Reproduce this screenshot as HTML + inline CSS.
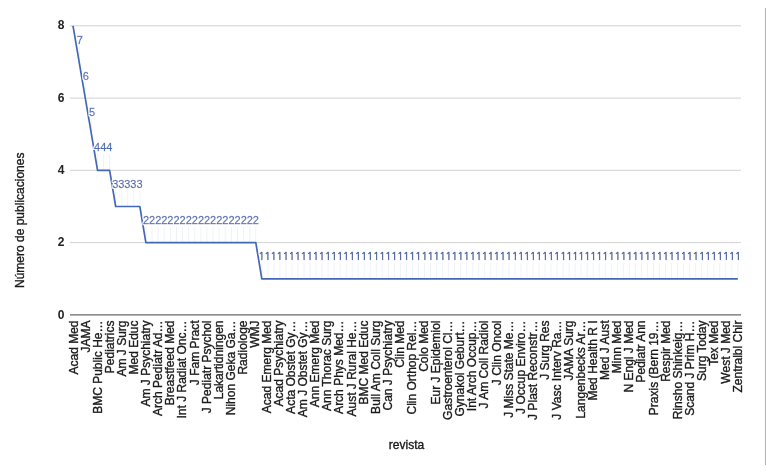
<!DOCTYPE html>
<html><head><meta charset="utf-8"><title>revista</title>
<style>
html,body{margin:0;padding:0;background:#fff;}
body{width:776px;height:475px;overflow:hidden;font-family:"Liberation Sans",sans-serif;}
svg{display:block;filter:blur(0.35px);}
.xl{font-size:12px;fill:#1a1a1a;stroke:#1a1a1a;stroke-width:0.35px;}
.yl{font-size:12px;font-weight:bold;fill:#222;}
.dl{font-size:11px;fill:#4a6db3;stroke:#4a6db3;stroke-width:0.3px;}
.d1{font-family:"NanumGothic","Liberation Sans",sans-serif;font-size:10.8px;fill:#48639f;stroke:#48639f;stroke-width:0.55px;}
.t{font-size:12px;fill:#1a1a1a;stroke:#1a1a1a;stroke-width:0.35px;}
</style></head><body>
<svg width="776" height="475" viewBox="0 0 776 475" font-family="Liberation Sans, sans-serif">
<rect width="776" height="475" fill="#fff"/>
<line x1="765.5" y1="8" x2="765.5" y2="465" stroke="#b4b4b4" stroke-width="1"/>
<line x1="70" y1="242.6" x2="741" y2="242.6" stroke="#d2d2d2" stroke-width="1"/>
<line x1="70" y1="170.3" x2="741" y2="170.3" stroke="#d2d2d2" stroke-width="1"/>
<line x1="70" y1="98.1" x2="741" y2="98.1" stroke="#d2d2d2" stroke-width="1"/>
<line x1="70" y1="25.8" x2="741" y2="25.8" stroke="#d2d2d2" stroke-width="1"/>
<line x1="70" y1="314.9" x2="741" y2="314.9" stroke="#6a6a6a" stroke-width="1.4"/>
<text class="yl" x="64.4" y="318.5" text-anchor="end">0</text>
<text class="yl" x="64.4" y="246.2" text-anchor="end">2</text>
<text class="yl" x="64.4" y="173.9" text-anchor="end">4</text>
<text class="yl" x="64.4" y="101.7" text-anchor="end">6</text>
<text class="yl" x="64.4" y="29.4" text-anchor="end">8</text>
<line x1="79.14" y1="45.9" x2="79.14" y2="61.9" stroke="#9db3dc" stroke-opacity="0.17" stroke-width="1"/>
<line x1="85.28" y1="82.1" x2="85.28" y2="98.1" stroke="#9db3dc" stroke-opacity="0.17" stroke-width="1"/>
<line x1="91.42" y1="118.2" x2="91.42" y2="134.2" stroke="#9db3dc" stroke-opacity="0.17" stroke-width="1"/>
<line x1="97.56" y1="154.3" x2="97.56" y2="170.3" stroke="#9db3dc" stroke-opacity="0.17" stroke-width="1"/>
<line x1="103.60" y1="154.3" x2="103.60" y2="170.3" stroke="#9db3dc" stroke-opacity="0.17" stroke-width="1"/>
<line x1="109.64" y1="154.3" x2="109.64" y2="170.3" stroke="#9db3dc" stroke-opacity="0.17" stroke-width="1"/>
<line x1="115.68" y1="190.5" x2="115.68" y2="206.5" stroke="#9db3dc" stroke-opacity="0.17" stroke-width="1"/>
<line x1="121.72" y1="190.5" x2="121.72" y2="206.5" stroke="#9db3dc" stroke-opacity="0.17" stroke-width="1"/>
<line x1="127.76" y1="190.5" x2="127.76" y2="206.5" stroke="#9db3dc" stroke-opacity="0.17" stroke-width="1"/>
<line x1="133.80" y1="190.5" x2="133.80" y2="206.5" stroke="#9db3dc" stroke-opacity="0.17" stroke-width="1"/>
<line x1="139.84" y1="190.5" x2="139.84" y2="206.5" stroke="#9db3dc" stroke-opacity="0.17" stroke-width="1"/>
<line x1="145.88" y1="226.6" x2="145.88" y2="242.6" stroke="#9db3dc" stroke-opacity="0.17" stroke-width="1"/>
<line x1="151.99" y1="226.6" x2="151.99" y2="242.6" stroke="#9db3dc" stroke-opacity="0.17" stroke-width="1"/>
<line x1="158.09" y1="226.6" x2="158.09" y2="242.6" stroke="#9db3dc" stroke-opacity="0.17" stroke-width="1"/>
<line x1="164.20" y1="226.6" x2="164.20" y2="242.6" stroke="#9db3dc" stroke-opacity="0.17" stroke-width="1"/>
<line x1="170.31" y1="226.6" x2="170.31" y2="242.6" stroke="#9db3dc" stroke-opacity="0.17" stroke-width="1"/>
<line x1="176.41" y1="226.6" x2="176.41" y2="242.6" stroke="#9db3dc" stroke-opacity="0.17" stroke-width="1"/>
<line x1="182.52" y1="226.6" x2="182.52" y2="242.6" stroke="#9db3dc" stroke-opacity="0.17" stroke-width="1"/>
<line x1="188.63" y1="226.6" x2="188.63" y2="242.6" stroke="#9db3dc" stroke-opacity="0.17" stroke-width="1"/>
<line x1="194.73" y1="226.6" x2="194.73" y2="242.6" stroke="#9db3dc" stroke-opacity="0.17" stroke-width="1"/>
<line x1="200.84" y1="226.6" x2="200.84" y2="242.6" stroke="#9db3dc" stroke-opacity="0.17" stroke-width="1"/>
<line x1="206.95" y1="226.6" x2="206.95" y2="242.6" stroke="#9db3dc" stroke-opacity="0.17" stroke-width="1"/>
<line x1="213.05" y1="226.6" x2="213.05" y2="242.6" stroke="#9db3dc" stroke-opacity="0.17" stroke-width="1"/>
<line x1="219.16" y1="226.6" x2="219.16" y2="242.6" stroke="#9db3dc" stroke-opacity="0.17" stroke-width="1"/>
<line x1="225.27" y1="226.6" x2="225.27" y2="242.6" stroke="#9db3dc" stroke-opacity="0.17" stroke-width="1"/>
<line x1="231.37" y1="226.6" x2="231.37" y2="242.6" stroke="#9db3dc" stroke-opacity="0.17" stroke-width="1"/>
<line x1="237.48" y1="226.6" x2="237.48" y2="242.6" stroke="#9db3dc" stroke-opacity="0.17" stroke-width="1"/>
<line x1="243.59" y1="226.6" x2="243.59" y2="242.6" stroke="#9db3dc" stroke-opacity="0.17" stroke-width="1"/>
<line x1="249.69" y1="226.6" x2="249.69" y2="242.6" stroke="#9db3dc" stroke-opacity="0.17" stroke-width="1"/>
<line x1="255.80" y1="226.6" x2="255.80" y2="242.6" stroke="#9db3dc" stroke-opacity="0.17" stroke-width="1"/>
<line x1="261.84" y1="262.8" x2="261.84" y2="278.8" stroke="#9db3dc" stroke-opacity="0.17" stroke-width="1"/>
<line x1="267.86" y1="262.8" x2="267.86" y2="278.8" stroke="#9db3dc" stroke-opacity="0.17" stroke-width="1"/>
<line x1="273.89" y1="262.8" x2="273.89" y2="278.8" stroke="#9db3dc" stroke-opacity="0.17" stroke-width="1"/>
<line x1="279.91" y1="262.8" x2="279.91" y2="278.8" stroke="#9db3dc" stroke-opacity="0.17" stroke-width="1"/>
<line x1="285.94" y1="262.8" x2="285.94" y2="278.8" stroke="#9db3dc" stroke-opacity="0.17" stroke-width="1"/>
<line x1="291.96" y1="262.8" x2="291.96" y2="278.8" stroke="#9db3dc" stroke-opacity="0.17" stroke-width="1"/>
<line x1="297.99" y1="262.8" x2="297.99" y2="278.8" stroke="#9db3dc" stroke-opacity="0.17" stroke-width="1"/>
<line x1="304.01" y1="262.8" x2="304.01" y2="278.8" stroke="#9db3dc" stroke-opacity="0.17" stroke-width="1"/>
<line x1="310.04" y1="262.8" x2="310.04" y2="278.8" stroke="#9db3dc" stroke-opacity="0.17" stroke-width="1"/>
<line x1="316.06" y1="262.8" x2="316.06" y2="278.8" stroke="#9db3dc" stroke-opacity="0.17" stroke-width="1"/>
<line x1="322.09" y1="262.8" x2="322.09" y2="278.8" stroke="#9db3dc" stroke-opacity="0.17" stroke-width="1"/>
<line x1="328.11" y1="262.8" x2="328.11" y2="278.8" stroke="#9db3dc" stroke-opacity="0.17" stroke-width="1"/>
<line x1="334.14" y1="262.8" x2="334.14" y2="278.8" stroke="#9db3dc" stroke-opacity="0.17" stroke-width="1"/>
<line x1="340.16" y1="262.8" x2="340.16" y2="278.8" stroke="#9db3dc" stroke-opacity="0.17" stroke-width="1"/>
<line x1="346.19" y1="262.8" x2="346.19" y2="278.8" stroke="#9db3dc" stroke-opacity="0.17" stroke-width="1"/>
<line x1="352.21" y1="262.8" x2="352.21" y2="278.8" stroke="#9db3dc" stroke-opacity="0.17" stroke-width="1"/>
<line x1="358.24" y1="262.8" x2="358.24" y2="278.8" stroke="#9db3dc" stroke-opacity="0.17" stroke-width="1"/>
<line x1="364.26" y1="262.8" x2="364.26" y2="278.8" stroke="#9db3dc" stroke-opacity="0.17" stroke-width="1"/>
<line x1="370.29" y1="262.8" x2="370.29" y2="278.8" stroke="#9db3dc" stroke-opacity="0.17" stroke-width="1"/>
<line x1="376.31" y1="262.8" x2="376.31" y2="278.8" stroke="#9db3dc" stroke-opacity="0.17" stroke-width="1"/>
<line x1="382.34" y1="262.8" x2="382.34" y2="278.8" stroke="#9db3dc" stroke-opacity="0.17" stroke-width="1"/>
<line x1="388.36" y1="262.8" x2="388.36" y2="278.8" stroke="#9db3dc" stroke-opacity="0.17" stroke-width="1"/>
<line x1="394.39" y1="262.8" x2="394.39" y2="278.8" stroke="#9db3dc" stroke-opacity="0.17" stroke-width="1"/>
<line x1="400.41" y1="262.8" x2="400.41" y2="278.8" stroke="#9db3dc" stroke-opacity="0.17" stroke-width="1"/>
<line x1="406.44" y1="262.8" x2="406.44" y2="278.8" stroke="#9db3dc" stroke-opacity="0.17" stroke-width="1"/>
<line x1="412.46" y1="262.8" x2="412.46" y2="278.8" stroke="#9db3dc" stroke-opacity="0.17" stroke-width="1"/>
<line x1="418.49" y1="262.8" x2="418.49" y2="278.8" stroke="#9db3dc" stroke-opacity="0.17" stroke-width="1"/>
<line x1="424.51" y1="262.8" x2="424.51" y2="278.8" stroke="#9db3dc" stroke-opacity="0.17" stroke-width="1"/>
<line x1="430.53" y1="262.8" x2="430.53" y2="278.8" stroke="#9db3dc" stroke-opacity="0.17" stroke-width="1"/>
<line x1="436.56" y1="262.8" x2="436.56" y2="278.8" stroke="#9db3dc" stroke-opacity="0.17" stroke-width="1"/>
<line x1="442.58" y1="262.8" x2="442.58" y2="278.8" stroke="#9db3dc" stroke-opacity="0.17" stroke-width="1"/>
<line x1="448.61" y1="262.8" x2="448.61" y2="278.8" stroke="#9db3dc" stroke-opacity="0.17" stroke-width="1"/>
<line x1="454.63" y1="262.8" x2="454.63" y2="278.8" stroke="#9db3dc" stroke-opacity="0.17" stroke-width="1"/>
<line x1="460.66" y1="262.8" x2="460.66" y2="278.8" stroke="#9db3dc" stroke-opacity="0.17" stroke-width="1"/>
<line x1="466.68" y1="262.8" x2="466.68" y2="278.8" stroke="#9db3dc" stroke-opacity="0.17" stroke-width="1"/>
<line x1="472.71" y1="262.8" x2="472.71" y2="278.8" stroke="#9db3dc" stroke-opacity="0.17" stroke-width="1"/>
<line x1="478.73" y1="262.8" x2="478.73" y2="278.8" stroke="#9db3dc" stroke-opacity="0.17" stroke-width="1"/>
<line x1="484.76" y1="262.8" x2="484.76" y2="278.8" stroke="#9db3dc" stroke-opacity="0.17" stroke-width="1"/>
<line x1="490.78" y1="262.8" x2="490.78" y2="278.8" stroke="#9db3dc" stroke-opacity="0.17" stroke-width="1"/>
<line x1="496.81" y1="262.8" x2="496.81" y2="278.8" stroke="#9db3dc" stroke-opacity="0.17" stroke-width="1"/>
<line x1="502.83" y1="262.8" x2="502.83" y2="278.8" stroke="#9db3dc" stroke-opacity="0.17" stroke-width="1"/>
<line x1="508.86" y1="262.8" x2="508.86" y2="278.8" stroke="#9db3dc" stroke-opacity="0.17" stroke-width="1"/>
<line x1="514.88" y1="262.8" x2="514.88" y2="278.8" stroke="#9db3dc" stroke-opacity="0.17" stroke-width="1"/>
<line x1="520.91" y1="262.8" x2="520.91" y2="278.8" stroke="#9db3dc" stroke-opacity="0.17" stroke-width="1"/>
<line x1="526.93" y1="262.8" x2="526.93" y2="278.8" stroke="#9db3dc" stroke-opacity="0.17" stroke-width="1"/>
<line x1="532.96" y1="262.8" x2="532.96" y2="278.8" stroke="#9db3dc" stroke-opacity="0.17" stroke-width="1"/>
<line x1="538.98" y1="262.8" x2="538.98" y2="278.8" stroke="#9db3dc" stroke-opacity="0.17" stroke-width="1"/>
<line x1="545.01" y1="262.8" x2="545.01" y2="278.8" stroke="#9db3dc" stroke-opacity="0.17" stroke-width="1"/>
<line x1="551.03" y1="262.8" x2="551.03" y2="278.8" stroke="#9db3dc" stroke-opacity="0.17" stroke-width="1"/>
<line x1="557.06" y1="262.8" x2="557.06" y2="278.8" stroke="#9db3dc" stroke-opacity="0.17" stroke-width="1"/>
<line x1="563.08" y1="262.8" x2="563.08" y2="278.8" stroke="#9db3dc" stroke-opacity="0.17" stroke-width="1"/>
<line x1="569.11" y1="262.8" x2="569.11" y2="278.8" stroke="#9db3dc" stroke-opacity="0.17" stroke-width="1"/>
<line x1="575.13" y1="262.8" x2="575.13" y2="278.8" stroke="#9db3dc" stroke-opacity="0.17" stroke-width="1"/>
<line x1="581.15" y1="262.8" x2="581.15" y2="278.8" stroke="#9db3dc" stroke-opacity="0.17" stroke-width="1"/>
<line x1="587.18" y1="262.8" x2="587.18" y2="278.8" stroke="#9db3dc" stroke-opacity="0.17" stroke-width="1"/>
<line x1="593.20" y1="262.8" x2="593.20" y2="278.8" stroke="#9db3dc" stroke-opacity="0.17" stroke-width="1"/>
<line x1="599.23" y1="262.8" x2="599.23" y2="278.8" stroke="#9db3dc" stroke-opacity="0.17" stroke-width="1"/>
<line x1="605.25" y1="262.8" x2="605.25" y2="278.8" stroke="#9db3dc" stroke-opacity="0.17" stroke-width="1"/>
<line x1="611.28" y1="262.8" x2="611.28" y2="278.8" stroke="#9db3dc" stroke-opacity="0.17" stroke-width="1"/>
<line x1="617.30" y1="262.8" x2="617.30" y2="278.8" stroke="#9db3dc" stroke-opacity="0.17" stroke-width="1"/>
<line x1="623.33" y1="262.8" x2="623.33" y2="278.8" stroke="#9db3dc" stroke-opacity="0.17" stroke-width="1"/>
<line x1="629.35" y1="262.8" x2="629.35" y2="278.8" stroke="#9db3dc" stroke-opacity="0.17" stroke-width="1"/>
<line x1="635.38" y1="262.8" x2="635.38" y2="278.8" stroke="#9db3dc" stroke-opacity="0.17" stroke-width="1"/>
<line x1="641.40" y1="262.8" x2="641.40" y2="278.8" stroke="#9db3dc" stroke-opacity="0.17" stroke-width="1"/>
<line x1="647.43" y1="262.8" x2="647.43" y2="278.8" stroke="#9db3dc" stroke-opacity="0.17" stroke-width="1"/>
<line x1="653.45" y1="262.8" x2="653.45" y2="278.8" stroke="#9db3dc" stroke-opacity="0.17" stroke-width="1"/>
<line x1="659.48" y1="262.8" x2="659.48" y2="278.8" stroke="#9db3dc" stroke-opacity="0.17" stroke-width="1"/>
<line x1="665.50" y1="262.8" x2="665.50" y2="278.8" stroke="#9db3dc" stroke-opacity="0.17" stroke-width="1"/>
<line x1="671.53" y1="262.8" x2="671.53" y2="278.8" stroke="#9db3dc" stroke-opacity="0.17" stroke-width="1"/>
<line x1="677.55" y1="262.8" x2="677.55" y2="278.8" stroke="#9db3dc" stroke-opacity="0.17" stroke-width="1"/>
<line x1="683.58" y1="262.8" x2="683.58" y2="278.8" stroke="#9db3dc" stroke-opacity="0.17" stroke-width="1"/>
<line x1="689.60" y1="262.8" x2="689.60" y2="278.8" stroke="#9db3dc" stroke-opacity="0.17" stroke-width="1"/>
<line x1="695.63" y1="262.8" x2="695.63" y2="278.8" stroke="#9db3dc" stroke-opacity="0.17" stroke-width="1"/>
<line x1="701.65" y1="262.8" x2="701.65" y2="278.8" stroke="#9db3dc" stroke-opacity="0.17" stroke-width="1"/>
<line x1="707.68" y1="262.8" x2="707.68" y2="278.8" stroke="#9db3dc" stroke-opacity="0.17" stroke-width="1"/>
<line x1="713.70" y1="262.8" x2="713.70" y2="278.8" stroke="#9db3dc" stroke-opacity="0.17" stroke-width="1"/>
<line x1="719.73" y1="262.8" x2="719.73" y2="278.8" stroke="#9db3dc" stroke-opacity="0.17" stroke-width="1"/>
<line x1="725.75" y1="262.8" x2="725.75" y2="278.8" stroke="#9db3dc" stroke-opacity="0.17" stroke-width="1"/>
<line x1="731.78" y1="262.8" x2="731.78" y2="278.8" stroke="#9db3dc" stroke-opacity="0.17" stroke-width="1"/>
<line x1="737.80" y1="262.8" x2="737.80" y2="278.8" stroke="#9db3dc" stroke-opacity="0.17" stroke-width="1"/>
<polyline points="73.00,25.8 79.14,61.9 85.28,98.1 91.42,134.2 97.56,170.3 103.60,170.3 109.64,170.3 115.68,206.5 121.72,206.5 127.76,206.5 133.80,206.5 139.84,206.5 145.88,242.6 151.99,242.6 158.09,242.6 164.20,242.6 170.31,242.6 176.41,242.6 182.52,242.6 188.63,242.6 194.73,242.6 200.84,242.6 206.95,242.6 213.05,242.6 219.16,242.6 225.27,242.6 231.37,242.6 237.48,242.6 243.59,242.6 249.69,242.6 255.80,242.6 261.84,278.8 267.86,278.8 273.89,278.8 279.91,278.8 285.94,278.8 291.96,278.8 297.99,278.8 304.01,278.8 310.04,278.8 316.06,278.8 322.09,278.8 328.11,278.8 334.14,278.8 340.16,278.8 346.19,278.8 352.21,278.8 358.24,278.8 364.26,278.8 370.29,278.8 376.31,278.8 382.34,278.8 388.36,278.8 394.39,278.8 400.41,278.8 406.44,278.8 412.46,278.8 418.49,278.8 424.51,278.8 430.53,278.8 436.56,278.8 442.58,278.8 448.61,278.8 454.63,278.8 460.66,278.8 466.68,278.8 472.71,278.8 478.73,278.8 484.76,278.8 490.78,278.8 496.81,278.8 502.83,278.8 508.86,278.8 514.88,278.8 520.91,278.8 526.93,278.8 532.96,278.8 538.98,278.8 545.01,278.8 551.03,278.8 557.06,278.8 563.08,278.8 569.11,278.8 575.13,278.8 581.15,278.8 587.18,278.8 593.20,278.8 599.23,278.8 605.25,278.8 611.28,278.8 617.30,278.8 623.33,278.8 629.35,278.8 635.38,278.8 641.40,278.8 647.43,278.8 653.45,278.8 659.48,278.8 665.50,278.8 671.53,278.8 677.55,278.8 683.58,278.8 689.60,278.8 695.63,278.8 701.65,278.8 707.68,278.8 713.70,278.8 719.73,278.8 725.75,278.8 731.78,278.8 737.80,278.8" fill="none" stroke="#4468b8" stroke-width="1.7" stroke-linejoin="round"/>
<defs><filter id="halo" x="-2%" y="-10%" width="104%" height="120%"><feMorphology in="SourceAlpha" operator="dilate" radius="1.3" result="d"/><feFlood flood-color="#fff" flood-opacity="0.92"/><feComposite in2="d" operator="in" result="h"/><feMerge><feMergeNode in="h"/><feMergeNode in="SourceGraphic"/></feMerge></filter></defs>
<g filter="url(#halo)">
<text class="dl" x="79.74" y="44.3" text-anchor="middle">7</text>
<text class="dl" x="85.88" y="80.0" text-anchor="middle">6</text>
<text class="dl" x="92.02" y="115.6" text-anchor="middle">5</text>
<text class="dl" x="97.16" y="151.3" text-anchor="middle">4</text>
<text class="dl" x="103.20" y="151.3" text-anchor="middle">4</text>
<text class="dl" x="109.24" y="151.3" text-anchor="middle">4</text>
<text class="dl" x="115.28" y="187.5" text-anchor="middle">3</text>
<text class="dl" x="121.32" y="187.5" text-anchor="middle">3</text>
<text class="dl" x="127.36" y="187.5" text-anchor="middle">3</text>
<text class="dl" x="133.40" y="187.5" text-anchor="middle">3</text>
<text class="dl" x="139.44" y="187.5" text-anchor="middle">3</text>
<text class="dl" x="145.98" y="223.6" text-anchor="middle">2</text>
<text class="dl" x="152.09" y="223.6" text-anchor="middle">2</text>
<text class="dl" x="158.19" y="223.6" text-anchor="middle">2</text>
<text class="dl" x="164.30" y="223.6" text-anchor="middle">2</text>
<text class="dl" x="170.41" y="223.6" text-anchor="middle">2</text>
<text class="dl" x="176.51" y="223.6" text-anchor="middle">2</text>
<text class="dl" x="182.62" y="223.6" text-anchor="middle">2</text>
<text class="dl" x="188.73" y="223.6" text-anchor="middle">2</text>
<text class="dl" x="194.83" y="223.6" text-anchor="middle">2</text>
<text class="dl" x="200.94" y="223.6" text-anchor="middle">2</text>
<text class="dl" x="207.05" y="223.6" text-anchor="middle">2</text>
<text class="dl" x="213.15" y="223.6" text-anchor="middle">2</text>
<text class="dl" x="219.26" y="223.6" text-anchor="middle">2</text>
<text class="dl" x="225.37" y="223.6" text-anchor="middle">2</text>
<text class="dl" x="231.47" y="223.6" text-anchor="middle">2</text>
<text class="dl" x="237.58" y="223.6" text-anchor="middle">2</text>
<text class="dl" x="243.69" y="223.6" text-anchor="middle">2</text>
<text class="dl" x="249.79" y="223.6" text-anchor="middle">2</text>
<text class="dl" x="255.90" y="223.6" text-anchor="middle">2</text>
<text class="d1" x="261.54" y="259.8" text-anchor="middle">1</text>
<text class="d1" x="267.57" y="259.8" text-anchor="middle">1</text>
<text class="d1" x="273.60" y="259.8" text-anchor="middle">1</text>
<text class="d1" x="279.64" y="259.8" text-anchor="middle">1</text>
<text class="d1" x="285.67" y="259.8" text-anchor="middle">1</text>
<text class="d1" x="291.70" y="259.8" text-anchor="middle">1</text>
<text class="d1" x="297.73" y="259.8" text-anchor="middle">1</text>
<text class="d1" x="303.77" y="259.8" text-anchor="middle">1</text>
<text class="d1" x="309.80" y="259.8" text-anchor="middle">1</text>
<text class="d1" x="315.83" y="259.8" text-anchor="middle">1</text>
<text class="d1" x="321.86" y="259.8" text-anchor="middle">1</text>
<text class="d1" x="327.90" y="259.8" text-anchor="middle">1</text>
<text class="d1" x="333.93" y="259.8" text-anchor="middle">1</text>
<text class="d1" x="339.96" y="259.8" text-anchor="middle">1</text>
<text class="d1" x="345.99" y="259.8" text-anchor="middle">1</text>
<text class="d1" x="352.03" y="259.8" text-anchor="middle">1</text>
<text class="d1" x="358.06" y="259.8" text-anchor="middle">1</text>
<text class="d1" x="364.09" y="259.8" text-anchor="middle">1</text>
<text class="d1" x="370.12" y="259.8" text-anchor="middle">1</text>
<text class="d1" x="376.16" y="259.8" text-anchor="middle">1</text>
<text class="d1" x="382.19" y="259.8" text-anchor="middle">1</text>
<text class="d1" x="388.22" y="259.8" text-anchor="middle">1</text>
<text class="d1" x="394.25" y="259.8" text-anchor="middle">1</text>
<text class="d1" x="400.29" y="259.8" text-anchor="middle">1</text>
<text class="d1" x="406.32" y="259.8" text-anchor="middle">1</text>
<text class="d1" x="412.35" y="259.8" text-anchor="middle">1</text>
<text class="d1" x="418.38" y="259.8" text-anchor="middle">1</text>
<text class="d1" x="424.41" y="259.8" text-anchor="middle">1</text>
<text class="d1" x="430.45" y="259.8" text-anchor="middle">1</text>
<text class="d1" x="436.48" y="259.8" text-anchor="middle">1</text>
<text class="d1" x="442.51" y="259.8" text-anchor="middle">1</text>
<text class="d1" x="448.54" y="259.8" text-anchor="middle">1</text>
<text class="d1" x="454.58" y="259.8" text-anchor="middle">1</text>
<text class="d1" x="460.61" y="259.8" text-anchor="middle">1</text>
<text class="d1" x="466.64" y="259.8" text-anchor="middle">1</text>
<text class="d1" x="472.67" y="259.8" text-anchor="middle">1</text>
<text class="d1" x="478.71" y="259.8" text-anchor="middle">1</text>
<text class="d1" x="484.74" y="259.8" text-anchor="middle">1</text>
<text class="d1" x="490.77" y="259.8" text-anchor="middle">1</text>
<text class="d1" x="496.80" y="259.8" text-anchor="middle">1</text>
<text class="d1" x="502.84" y="259.8" text-anchor="middle">1</text>
<text class="d1" x="508.87" y="259.8" text-anchor="middle">1</text>
<text class="d1" x="514.90" y="259.8" text-anchor="middle">1</text>
<text class="d1" x="520.93" y="259.8" text-anchor="middle">1</text>
<text class="d1" x="526.97" y="259.8" text-anchor="middle">1</text>
<text class="d1" x="533.00" y="259.8" text-anchor="middle">1</text>
<text class="d1" x="539.03" y="259.8" text-anchor="middle">1</text>
<text class="d1" x="545.06" y="259.8" text-anchor="middle">1</text>
<text class="d1" x="551.10" y="259.8" text-anchor="middle">1</text>
<text class="d1" x="557.13" y="259.8" text-anchor="middle">1</text>
<text class="d1" x="563.16" y="259.8" text-anchor="middle">1</text>
<text class="d1" x="569.19" y="259.8" text-anchor="middle">1</text>
<text class="d1" x="575.23" y="259.8" text-anchor="middle">1</text>
<text class="d1" x="581.26" y="259.8" text-anchor="middle">1</text>
<text class="d1" x="587.29" y="259.8" text-anchor="middle">1</text>
<text class="d1" x="593.32" y="259.8" text-anchor="middle">1</text>
<text class="d1" x="599.35" y="259.8" text-anchor="middle">1</text>
<text class="d1" x="605.39" y="259.8" text-anchor="middle">1</text>
<text class="d1" x="611.42" y="259.8" text-anchor="middle">1</text>
<text class="d1" x="617.45" y="259.8" text-anchor="middle">1</text>
<text class="d1" x="623.48" y="259.8" text-anchor="middle">1</text>
<text class="d1" x="629.52" y="259.8" text-anchor="middle">1</text>
<text class="d1" x="635.55" y="259.8" text-anchor="middle">1</text>
<text class="d1" x="641.58" y="259.8" text-anchor="middle">1</text>
<text class="d1" x="647.61" y="259.8" text-anchor="middle">1</text>
<text class="d1" x="653.65" y="259.8" text-anchor="middle">1</text>
<text class="d1" x="659.68" y="259.8" text-anchor="middle">1</text>
<text class="d1" x="665.71" y="259.8" text-anchor="middle">1</text>
<text class="d1" x="671.74" y="259.8" text-anchor="middle">1</text>
<text class="d1" x="677.78" y="259.8" text-anchor="middle">1</text>
<text class="d1" x="683.81" y="259.8" text-anchor="middle">1</text>
<text class="d1" x="689.84" y="259.8" text-anchor="middle">1</text>
<text class="d1" x="695.87" y="259.8" text-anchor="middle">1</text>
<text class="d1" x="701.91" y="259.8" text-anchor="middle">1</text>
<text class="d1" x="707.94" y="259.8" text-anchor="middle">1</text>
<text class="d1" x="713.97" y="259.8" text-anchor="middle">1</text>
<text class="d1" x="720.00" y="259.8" text-anchor="middle">1</text>
<text class="d1" x="726.04" y="259.8" text-anchor="middle">1</text>
<text class="d1" x="732.07" y="259.8" text-anchor="middle">1</text>
<text class="d1" x="738.10" y="259.8" text-anchor="middle">1</text>
</g>
<text class="xl" transform="translate(77.70,320.5) rotate(-90)" text-anchor="end">Acad Med</text>
<text class="xl" transform="translate(89.78,320.5) rotate(-90)" text-anchor="end">JAMA</text>
<text class="xl" transform="translate(101.86,320.5) rotate(-90)" text-anchor="end">BMC Public He…</text>
<text class="xl" transform="translate(113.94,320.5) rotate(-90)" text-anchor="end">Pediatrics</text>
<text class="xl" transform="translate(126.02,320.5) rotate(-90)" text-anchor="end">Am J Surg</text>
<text class="xl" transform="translate(138.10,320.5) rotate(-90)" text-anchor="end">Med Educ</text>
<text class="xl" transform="translate(150.18,320.5) rotate(-90)" text-anchor="end">Am J Psychiatry</text>
<text class="xl" transform="translate(162.26,320.5) rotate(-90)" text-anchor="end">Arch Pediatr Ad…</text>
<text class="xl" transform="translate(174.34,320.5) rotate(-90)" text-anchor="end">Breastfeed Med</text>
<text class="xl" transform="translate(186.42,320.5) rotate(-90)" text-anchor="end">Int J Radiat Onc…</text>
<text class="xl" transform="translate(198.50,320.5) rotate(-90)" text-anchor="end">J Fam Pract</text>
<text class="xl" transform="translate(210.58,320.5) rotate(-90)" text-anchor="end">J Pediatr Psychol</text>
<text class="xl" transform="translate(222.66,320.5) rotate(-90)" text-anchor="end">Lakartidningen</text>
<text class="xl" transform="translate(234.74,320.5) rotate(-90)" text-anchor="end">Nihon Geka Ga…</text>
<text class="xl" transform="translate(246.82,320.5) rotate(-90)" text-anchor="end">Radiologe</text>
<text class="xl" transform="translate(258.90,320.5) rotate(-90)" text-anchor="end">WMJ</text>
<text class="xl" transform="translate(270.98,320.5) rotate(-90)" text-anchor="end">Acad Emerg Med</text>
<text class="xl" transform="translate(283.06,320.5) rotate(-90)" text-anchor="end">Acad Psychiatry</text>
<text class="xl" transform="translate(295.14,320.5) rotate(-90)" text-anchor="end">Acta Obstet Gy…</text>
<text class="xl" transform="translate(307.22,320.5) rotate(-90)" text-anchor="end">Am J Obstet Gy…</text>
<text class="xl" transform="translate(319.30,320.5) rotate(-90)" text-anchor="end">Ann Emerg Med</text>
<text class="xl" transform="translate(331.38,320.5) rotate(-90)" text-anchor="end">Ann Thorac Surg</text>
<text class="xl" transform="translate(343.46,320.5) rotate(-90)" text-anchor="end">Arch Phys Med…</text>
<text class="xl" transform="translate(355.54,320.5) rotate(-90)" text-anchor="end">Aust J Rural He…</text>
<text class="xl" transform="translate(367.62,320.5) rotate(-90)" text-anchor="end">BMC Med Educ</text>
<text class="xl" transform="translate(379.70,320.5) rotate(-90)" text-anchor="end">Bull Am Coll Surg</text>
<text class="xl" transform="translate(391.78,320.5) rotate(-90)" text-anchor="end">Can J Psychiatry</text>
<text class="xl" transform="translate(403.86,320.5) rotate(-90)" text-anchor="end">Clin Med</text>
<text class="xl" transform="translate(415.94,320.5) rotate(-90)" text-anchor="end">Clin Orthop Rel…</text>
<text class="xl" transform="translate(428.02,320.5) rotate(-90)" text-anchor="end">Colo Med</text>
<text class="xl" transform="translate(440.10,320.5) rotate(-90)" text-anchor="end">Eur J Epidemiol</text>
<text class="xl" transform="translate(452.18,320.5) rotate(-90)" text-anchor="end">Gastroenterol Cl…</text>
<text class="xl" transform="translate(464.26,320.5) rotate(-90)" text-anchor="end">Gynakol Geburt…</text>
<text class="xl" transform="translate(476.34,320.5) rotate(-90)" text-anchor="end">Int Arch Occup…</text>
<text class="xl" transform="translate(488.42,320.5) rotate(-90)" text-anchor="end">J Am Coll Radiol</text>
<text class="xl" transform="translate(500.50,320.5) rotate(-90)" text-anchor="end">J Clin Oncol</text>
<text class="xl" transform="translate(512.58,320.5) rotate(-90)" text-anchor="end">J Miss State Me…</text>
<text class="xl" transform="translate(524.66,320.5) rotate(-90)" text-anchor="end">J Occup Enviro…</text>
<text class="xl" transform="translate(536.74,320.5) rotate(-90)" text-anchor="end">J Plast Reconstr…</text>
<text class="xl" transform="translate(548.82,320.5) rotate(-90)" text-anchor="end">J Surg Res</text>
<text class="xl" transform="translate(560.90,320.5) rotate(-90)" text-anchor="end">J Vasc Interv Ra…</text>
<text class="xl" transform="translate(572.98,320.5) rotate(-90)" text-anchor="end">JAMA Surg</text>
<text class="xl" transform="translate(585.06,320.5) rotate(-90)" text-anchor="end">Langenbecks Ar…</text>
<text class="xl" transform="translate(597.14,320.5) rotate(-90)" text-anchor="end">Med Health R I</text>
<text class="xl" transform="translate(609.22,320.5) rotate(-90)" text-anchor="end">Med J Aust</text>
<text class="xl" transform="translate(621.30,320.5) rotate(-90)" text-anchor="end">Minn Med</text>
<text class="xl" transform="translate(633.38,320.5) rotate(-90)" text-anchor="end">N Engl J Med</text>
<text class="xl" transform="translate(645.46,320.5) rotate(-90)" text-anchor="end">Pediatr Ann</text>
<text class="xl" transform="translate(657.54,320.5) rotate(-90)" text-anchor="end">Praxis (Bern 19…</text>
<text class="xl" transform="translate(669.62,320.5) rotate(-90)" text-anchor="end">Respir Med</text>
<text class="xl" transform="translate(681.70,320.5) rotate(-90)" text-anchor="end">Rinsho Shinkeig…</text>
<text class="xl" transform="translate(693.78,320.5) rotate(-90)" text-anchor="end">Scand J Prim H…</text>
<text class="xl" transform="translate(705.86,320.5) rotate(-90)" text-anchor="end">Surg Today</text>
<text class="xl" transform="translate(717.94,320.5) rotate(-90)" text-anchor="end">Tex Med</text>
<text class="xl" transform="translate(730.02,320.5) rotate(-90)" text-anchor="end">West J Med</text>
<text class="xl" transform="translate(742.10,320.5) rotate(-90)" text-anchor="end">Zentralbl Chir</text>
<text class="t" x="406.5" y="449.4" text-anchor="middle">revista</text>
<text class="t" transform="translate(23.8,220.3) rotate(-90)" text-anchor="middle">Número de publicaciones</text>
</svg></body></html>
